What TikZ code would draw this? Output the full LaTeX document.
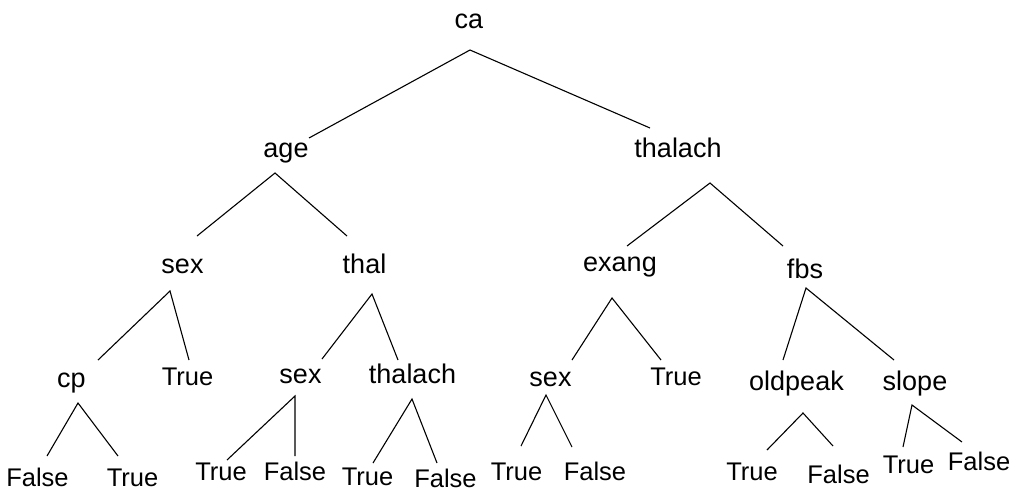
\documentclass[tikz,border=0pt]{standalone}
\usepackage{fontspec}
\setmainfont{Liberation Sans}
\begin{document}
\begin{tikzpicture}[x=1pt,y=-1pt,
  inner/.style={anchor=base,inner sep=0pt,font=\fontsize{27}{30}\selectfont},
  leaf/.style={anchor=base,inner sep=0pt,font=\fontsize{25.5}{28}\selectfont},
  edge/.style={draw=black,line width=1.1pt}]
\useasboundingbox[fill=white] (0,0) rectangle (1023,491);

% labels (placed at their baselines)
\node[inner] (ca) at (469,28) {ca};
\node[inner] (age) at (286,157) {age};
\node[inner] (th1) at (678,157) {thalach};
\node[inner] (sex1) at (182.5,273) {sex};
\node[inner] (thal) at (364.5,273) {thal};
\node[inner] (exang) at (620,271) {exang};
\node[inner] (fbs) at (805,278) {fbs};
\node[inner] (cp) at (71.5,387) {cp};
\node[leaf] (t1) at (187.5,385) {True};
\node[inner] (sex2) at (300.5,383) {sex};
\node[inner] (th2) at (412.5,383) {thalach};
\node[inner] (sex3) at (550.5,386) {sex};
\node[leaf] (t2) at (676,385) {True};
\node[inner] (oldpeak) at (796.5,390) {oldpeak};
\node[inner] (slope) at (915,390) {slope};
\node[leaf] (f1) at (37.5,486) {False};
\node[leaf] (t3) at (132.5,486) {True};
\node[leaf] (t4) at (221,480) {True};
\node[leaf] (f2) at (295,480) {False};
\node[leaf] (t5) at (367.5,485) {True};
\node[leaf] (f3) at (445.5,487) {False};
\node[leaf] (t6) at (516.5,480) {True};
\node[leaf] (f4) at (595,480) {False};
\node[leaf] (t7) at (752,480) {True};
\node[leaf] (f5) at (838.5,483) {False};
\node[leaf] (t8) at (908.5,473) {True};
\node[leaf] (f6) at (979,470) {False};

% branch points below each parent
\coordinate (ca-b) at (470,50);
\coordinate (age-b) at (275,173);
\coordinate (th1-b) at (710,183);
\coordinate (sex1-b) at (170,291);
\coordinate (thal-b) at (372,294);
\coordinate (exang-b) at (612,298);
\coordinate (fbs-b) at (806,288);
\coordinate (cp-b) at (78,403);
\coordinate (sex2-b) at (295,396);
\coordinate (th2-b) at (412,399);
\coordinate (sex3-b) at (546,395);
\coordinate (oldpeak-b) at (803,413);
\coordinate (slope-b) at (912,405);

% end points above each child
\coordinate (age-t) at (309,138);
\coordinate (th1-t) at (650,128);
\coordinate (sex1-t) at (197,236);
\coordinate (thal-t) at (347,236);
\coordinate (exang-t) at (627,246);
\coordinate (fbs-t) at (783,246);
\coordinate (cp-t) at (98,360);
\coordinate (t1-t) at (189,360);
\coordinate (sex2-t) at (322,359);
\coordinate (th2-t) at (398,360);
\coordinate (sex3-t) at (572,360);
\coordinate (t2-t) at (661,360);
\coordinate (oldpeak-t) at (783,360);
\coordinate (slope-t) at (894,360);
\coordinate (f1-t) at (47,456);
\coordinate (t3-t) at (118,456);
\coordinate (t4-t) at (227,460);
\coordinate (f2-t) at (295,456);
\coordinate (t5-t) at (373,463);
\coordinate (f3-t) at (437,463);
\coordinate (t6-t) at (521,446);
\coordinate (f4-t) at (572,447);
\coordinate (t7-t) at (767,450);
\coordinate (f5-t) at (833,446);
\coordinate (t8-t) at (903,447);
\coordinate (f6-t) at (962,442);

% connectors
\draw[edge] (age-t) -- (ca-b) -- (th1-t);
\draw[edge] (sex1-t) -- (age-b) -- (thal-t);
\draw[edge] (exang-t) -- (th1-b) -- (fbs-t);
\draw[edge] (cp-t) -- (sex1-b) -- (t1-t);
\draw[edge] (sex2-t) -- (thal-b) -- (th2-t);
\draw[edge] (sex3-t) -- (exang-b) -- (t2-t);
\draw[edge] (oldpeak-t) -- (fbs-b) -- (slope-t);
\draw[edge] (f1-t) -- (cp-b) -- (t3-t);
\draw[edge] (t4-t) -- (sex2-b) -- (f2-t);
\draw[edge] (t5-t) -- (th2-b) -- (f3-t);
\draw[edge] (t6-t) -- (sex3-b) -- (f4-t);
\draw[edge] (t7-t) -- (oldpeak-b) -- (f5-t);
\draw[edge] (t8-t) -- (slope-b) -- (f6-t);
\end{tikzpicture}
\end{document}
